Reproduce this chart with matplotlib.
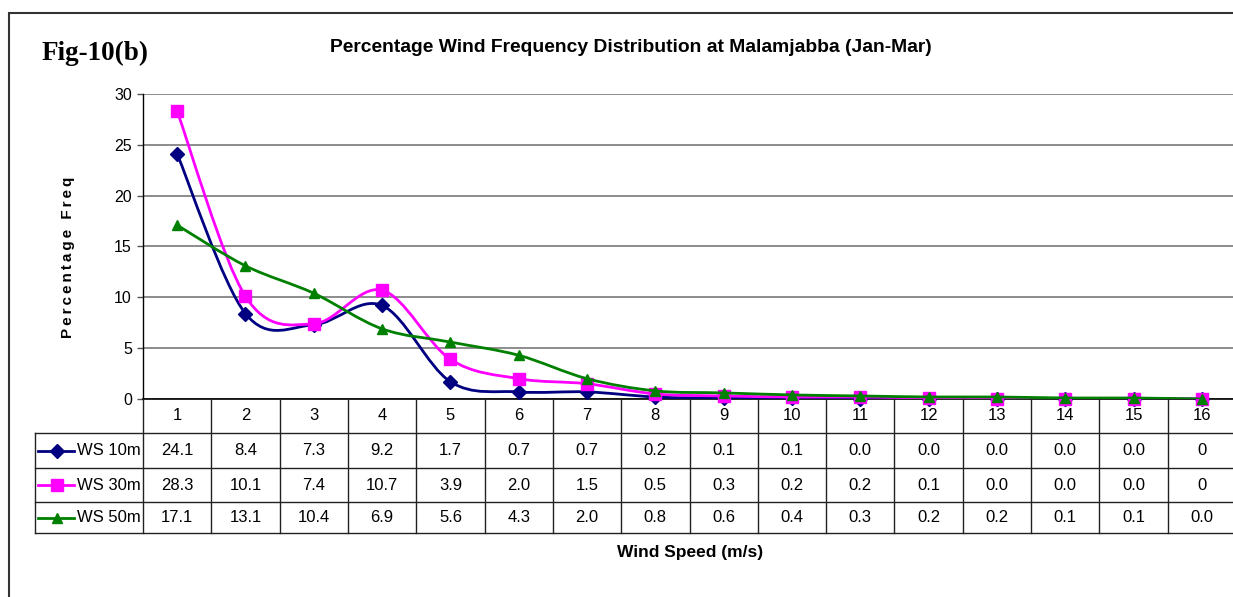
import matplotlib
matplotlib.use('Agg')
import matplotlib.pyplot as plt
import numpy as np
from matplotlib.path import Path
from matplotlib.patches import PathPatch, Rectangle
from matplotlib.lines import Line2D
from matplotlib import font_manager
from matplotlib.transforms import blended_transform_factory

# ---------------- data ----------------
wind_speed = list(range(1, 17))
ws10 = [24.1, 8.4, 7.3, 9.2, 1.7, 0.7, 0.7, 0.2, 0.1, 0.1, 0.0, 0.0, 0.0, 0.0, 0.0, 0.0]
ws30 = [28.3, 10.1, 7.4, 10.7, 3.9, 2.0, 1.5, 0.5, 0.3, 0.2, 0.2, 0.1, 0.0, 0.0, 0.0, 0.0]
ws50 = [17.1, 13.1, 10.4, 6.9, 5.6, 4.3, 2.0, 0.8, 0.6, 0.4, 0.3, 0.2, 0.2, 0.1, 0.1, 0.0]
series_names = ['WS 10m', 'WS 30m', 'WS 50m']
whole_number_cells = [(0, 15), (1, 15)]   # cells printed as "0" in the table
yticks = [0, 5, 10, 15, 20, 25, 30]
title = 'Percentage Wind Frequency Distribution at Malamjabba (Jan-Mar)'
fig_tag = 'Fig-10(b)'
ylabel = 'Percentage Freq'
xlabel = 'Wind Speed (m/s)'

colors = ['#000080', '#FF00FF', '#008000']
markers = ['D', 's', '^']
msizes = [7.5, 8.5, 7.5]

names = {f.name for f in font_manager.fontManager.ttflist}
SANS = 'Liberation Sans'
NARROW = 'Liberation Sans Narrow' if 'Liberation Sans Narrow' in names else SANS
TABLE_FS = 13 if NARROW != SANS else 12
SERIF = 'Liberation Serif'

W, H = 1233, 597
fig = plt.figure(figsize=(W / 100, H / 100), dpi=100)
fig.patch.set_facecolor('white')


def fx(px):
    return px / W


def fy(py):
    return 1 - py / H


ax = fig.add_axes([fx(143), fy(399), fx(1236) - fx(143), fy(94) - fy(399)])
ax.set_xlim(0.5, 16.5)
ax.set_ylim(0, 30)
ax.set_facecolor('white')
for s in ['top', 'right']:
    ax.spines[s].set_visible(False)
ax.spines['left'].set_color('black')
ax.spines['bottom'].set_color('black')
ax.spines['left'].set_linewidth(1.0)
ax.spines['bottom'].set_linewidth(1.2)
ax.set_yticks(yticks)
ax.set_yticklabels([str(v) for v in yticks], fontfamily=SANS, fontsize=11.5)
ax.set_xticks([])
ax.tick_params(axis='y', direction='out', length=4, width=1, color='#555555', pad=4)
ax.yaxis.grid(True, color='#6e6e6e', linewidth=1.1)
ax.set_axisbelow(True)


def smooth_path(xs, ys):
    pts = np.column_stack([xs, ys]).astype(float)
    n = len(pts)
    verts = [pts[0]]
    codes = [Path.MOVETO]
    for i in range(n - 1):
        p0 = pts[i - 1] if i > 0 else pts[i]
        p1 = pts[i]
        p2 = pts[i + 1]
        p3 = pts[i + 2] if i + 2 < n else pts[i + 1]
        c1 = p1 + (p2 - p0) / 6.0
        c2 = p2 - (p3 - p1) / 6.0
        verts += [c1, c2, p2]
        codes += [Path.CURVE4] * 3
    return Path(verts, codes)


all_series = [ws10, ws30, ws50]
for k, vals in enumerate(all_series):
    patch = PathPatch(smooth_path(wind_speed, vals), fill=False, edgecolor=colors[k],
                      linewidth=2.0, transform=ax.transData, zorder=3 + k, capstyle='round')
    ax.add_patch(patch)
    ax.plot(wind_speed, vals, linestyle='none', marker=markers[k], markersize=msizes[k],
            color=colors[k], markeredgecolor=colors[k], zorder=3.5 + k, clip_on=False)

# ---------------- data table ----------------
trans = blended_transform_factory(ax.transData, fig.transFigure)
row_edges = [399, 433, 468, 502, 533]
line_kw = dict(color='#222222', linewidth=1.0)

for xb in np.arange(0.5, 17.0, 1.0):
    fig.add_artist(Line2D([xb, xb], [fy(399), fy(533)], transform=trans, **line_kw))
for yb in row_edges[1:]:
    fig.add_artist(Line2D([fx(35), fx(1240)], [fy(yb), fy(yb)], transform=fig.transFigure, **line_kw))
fig.add_artist(Line2D([fx(35), fx(35)], [fy(433), fy(533)], transform=fig.transFigure, **line_kw))

hdr_c = (row_edges[0] + row_edges[1]) / 2
for ws in wind_speed:
    fig.text(ws, fy(hdr_c), str(ws), transform=trans, ha='center', va='center',
             fontfamily=NARROW, fontsize=TABLE_FS)

for r, vals in enumerate(all_series):
    rc = (row_edges[r + 1] + row_edges[r + 2]) / 2
    for c, v in enumerate(vals):
        txt = '%d' % round(v) if (r, c) in whole_number_cells else '%.1f' % v
        fig.text(wind_speed[c], fy(rc), txt, transform=trans, ha='center', va='center',
                 fontfamily=NARROW, fontsize=TABLE_FS)
    fig.add_artist(Line2D([fx(38), fx(74)], [fy(rc), fy(rc)], transform=fig.transFigure,
                          color=colors[r], linewidth=2.0))
    fig.add_artist(Line2D([fx(56.5)], [fy(rc)], transform=fig.transFigure, linestyle='none',
                          marker=markers[r], markersize=msizes[r] - 0.5, color=colors[r]))
    fig.text(fx(77), fy(rc), series_names[r], ha='left', va='center',
             fontfamily=NARROW, fontsize=TABLE_FS)

# ---------------- texts ----------------
fig.text(fx(631), fy(48), title, ha='center', va='center', fontfamily=SANS,
         fontweight='bold', fontsize=13.9)
fig.text(fx(95), fy(53), fig_tag, ha='center', va='center', fontfamily=SERIF,
         fontweight='bold', fontsize=19.5)
spaced = '\u2009'.join(list(ylabel))
fig.text(fx(68), fy(257), spaced, rotation=90, ha='center', va='center',
         fontfamily=[SANS, 'DejaVu Sans'], fontweight='bold', fontsize=11)
fig.text(fx(690), fy(553), xlabel, ha='center', va='center', fontfamily=SANS,
         fontweight='bold', fontsize=12.5)

# outer chart frame
fig.add_artist(Rectangle((fx(9), fy(700)), fx(1400) - fx(9), fy(13) - fy(700),
                         transform=fig.transFigure, fill=False, edgecolor='#333333',
                         linewidth=1.5))

fig.savefig('out.png', dpi=100, facecolor='white')
